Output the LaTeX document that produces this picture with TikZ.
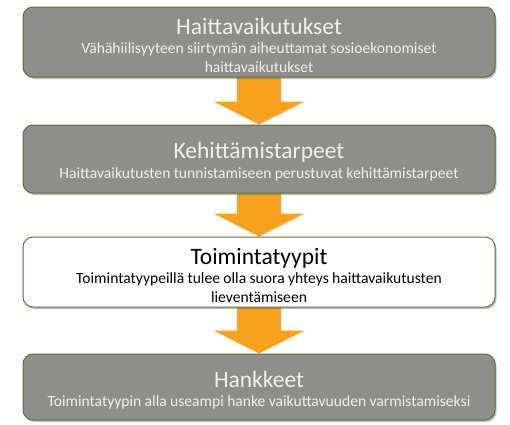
\documentclass[tikz,border=0pt]{standalone}
\usepackage{fontspec}
\setmainfont{Carlito}
\usetikzlibrary{shadows,calc,backgrounds}
\definecolor{boxgray}{HTML}{8E8E8A}
\definecolor{boxline}{HTML}{5E6E36}
\definecolor{arroworange}{HTML}{F7A11E}
\newcommand\stagetitle{\fontsize{23.5}{26}\selectfont}
\newcommand\stagetext{\fontsize{15.6}{18.5}\selectfont}
\tikzset{
  stage/.style={draw=boxline, line width=1pt, rounded corners=10pt,
    minimum width=472pt, inner sep=0pt,
    drop shadow={shadow xshift=1.5pt, shadow yshift=-2pt, opacity=0.35, fill=black!70}},
  graystage/.style={stage, fill=boxgray},
  whitestage/.style={stage, fill=white},
  stagelabel/.style={text width=465pt, align=center, inner sep=0pt},
  graylabel/.style={stagelabel, text=white!94!black},
  whitelabel/.style={stagelabel, text=black},
  flowarrow/.style={fill=arroworange}
}
\begin{document}
\begin{tikzpicture}
\useasboundingbox (0,0) rectangle (510pt,-424pt);
\node[graystage, minimum height=70pt] (a) at (259pt,-42pt) {};
\node[graylabel] (at) at ($(a.center)+(0,-3pt)$)
  {\stagetitle Haittavaikutukset\par\vskip1pt
   \stagetext Vähähiilisyyteen siirtymän aiheuttamat sosioekonomiset\\ haittavaikutukset\par};
\node[graystage, minimum height=68pt] (b) at (259pt,-159pt) {};
\node[graylabel] (bt) at ($(b.center)+(0,-2.5pt)$)
  {\stagetitle Kehittämistarpeet\par\vskip1pt
   \stagetext Haittavaikutusten tunnistamiseen perustuvat kehittämistarpeet\par};
\node[whitestage, minimum height=70pt] (c) at (259pt,-272pt) {};
\node[whitelabel] (ct) at ($(c.center)+(0,-3pt)$)
  {\stagetitle Toimintatyypit\par\vskip1pt
   \stagetext Toimintatyypeillä tulee olla suora yhteys haittavaikutusten\\ lieventämiseen\par};
\node[graystage, minimum height=66pt] (d) at (259pt,-387pt) {};
\node[graylabel] (dt) at ($(d.center)+(0,-3pt)$)
  {\stagetitle Hankkeet\par\vskip1pt
   \stagetext Toimintatyypin alla useampi hanke vaikuttavuuden varmistamiseksi\par};
\begin{scope}[on background layer]
\foreach \u/\v in {a/b,b/c,c/d}{
  \fill[flowarrow] ($(\u.south)+(-22pt,0)$) -- ($(\v.north)+(-22pt,23pt)$)
    -- ($(\v.north)+(-45.5pt,23pt)$) -- (\v.north) -- ($(\v.north)+(45.5pt,23pt)$)
    -- ($(\v.north)+(22pt,23pt)$) -- ($(\u.south)+(22pt,0)$) -- cycle;
}
\end{scope}
\end{tikzpicture}
\end{document}
